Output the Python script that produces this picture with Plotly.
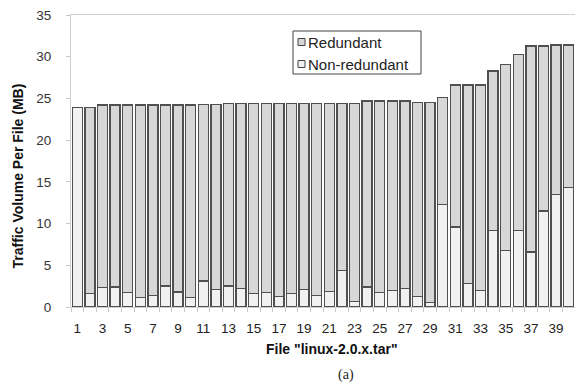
import plotly.graph_objects as go

files = list(range(1, 41))
totals = [23.9, 23.9, 24.2, 24.2, 24.2, 24.2, 24.2, 24.2, 24.2, 24.2,
          24.3, 24.3, 24.4, 24.4, 24.4, 24.4, 24.4, 24.4, 24.4, 24.4,
          24.4, 24.4, 24.4, 24.7, 24.7, 24.7, 24.7, 24.5, 24.5, 25.1,
          26.6, 26.6, 26.6, 28.3, 29.1, 30.3, 31.3, 31.3, 31.4, 31.4]
non_redundant = [23.9, 1.6, 2.3, 2.4, 1.7, 1.1, 1.4, 2.5, 1.8, 1.1,
                 3.1, 2.1, 2.5, 2.2, 1.6, 1.7, 1.3, 1.6, 2.1, 1.4,
                 1.9, 4.4, 0.7, 2.4, 1.7, 2.0, 2.2, 1.3, 0.5, 12.3,
                 9.6, 2.8, 2.0, 9.2, 6.8, 9.2, 6.6, 11.5, 13.5, 14.3]
redundant = [round(t - n, 2) for t, n in zip(totals, non_redundant)]
tick_vals = list(range(1, 41, 2))
tick_text = [str(v) for v in tick_vals]
series_names = ["Redundant", "Non-redundant"]

W, H = 575, 383
L, R, T, B = 71, 0, 15, 76
PW, PH = W - L - R, H - T - B


def px(x):
    return (x - L) / PW


def py(y):
    return (H - B - y) / PH


C_RED = "#d7d7d7"
C_NON = "#f1f1f1"
EDGE = "#505050"
edge = dict(color=EDGE, width=1.3)

fig = go.Figure()
fig.add_trace(go.Bar(x=files, y=non_redundant, name=series_names[1],
                     marker=dict(color=C_NON, line=edge)))
fig.add_trace(go.Bar(x=files, y=redundant, name=series_names[0],
                     marker=dict(color=C_RED, line=edge)))

font = "Liberation Sans, Arial, sans-serif"

# manual legend (box, swatches, labels)
shapes = [dict(type="rect", xref="paper", yref="paper",
               x0=px(293), x1=px(421), y0=py(31), y1=py(74),
               line=dict(color="#444444", width=1), fillcolor="white", layer="above")]
annotations = []
for name, col, yc in [(series_names[0], C_RED, 42), (series_names[1], C_NON, 64)]:
    shapes.append(dict(type="rect", xref="paper", yref="paper",
                       x0=px(298), x1=px(305), y0=py(yc + 3.5), y1=py(yc - 3.5),
                       line=dict(color="#444444", width=1), fillcolor=col, layer="above"))
    annotations.append(dict(text=name, xref="paper", yref="paper",
                            x=px(306), y=py(yc), xanchor="left", yanchor="middle",
                            showarrow=False,
                            font=dict(family=font, size=15, color="#222222")))

annotations.append(dict(text='<b>File "linux-2.0.x.tar"</b>', xref="paper", yref="paper",
                        x=px(332), y=py(349), xanchor="center", yanchor="middle",
                        showarrow=False, font=dict(family=font, size=14, color="#111111")))
annotations.append(dict(text="<b>Traffic Volume Per File (MB)</b>", xref="paper", yref="paper",
                        x=px(17.5), y=py(176), xanchor="center", yanchor="middle",
                        textangle=-90, showarrow=False,
                        font=dict(family=font, size=14, color="#111111")))
annotations.append(dict(text="(a)", xref="paper", yref="paper",
                        x=px(346), y=py(375), xanchor="center", yanchor="middle",
                        showarrow=False,
                        font=dict(family="Liberation Serif, Times New Roman, serif",
                                  size=14, color="#222222")))

fig.update_layout(
    width=W, height=H,
    barmode="stack", bargap=0.2,
    plot_bgcolor="white", paper_bgcolor="white",
    margin=dict(l=L, r=R, t=T, b=B),
    font=dict(family=font, size=13, color="#333333"),
    showlegend=False,
    shapes=shapes,
    annotations=annotations,
    xaxis=dict(range=[0.5, 40.5], tickmode="array", tickvals=tick_vals,
               ticktext=tick_text, ticks="", showgrid=False, zeroline=False,
               showline=True, linecolor="#d0d0d0", linewidth=1, mirror=True,
               minor=dict(ticks="outside", tick0=0.5, dtick=1, ticklen=4,
                          tickcolor="#c8c8c8", showgrid=False),
               ticklabelstandoff=9,
               tickfont=dict(size=13.5, color="#222222")),
    yaxis=dict(range=[0, 35], tickmode="array", tickvals=list(range(0, 36, 5)),
               ticks="outside", ticklen=4, tickcolor="#c8c8c8",
               showgrid=False, zeroline=False, showline=True,
               linecolor="#d0d0d0", linewidth=1,
               ticklabelstandoff=12,
               tickfont=dict(size=13.5, color="#333333")),
)
fig.write_html("out.html",
               config={"displayModeBar": False, "staticPlot": True},
               post_script="document.body.style.margin='0';document.body.style.padding='0';document.body.style.overflow='hidden';")
